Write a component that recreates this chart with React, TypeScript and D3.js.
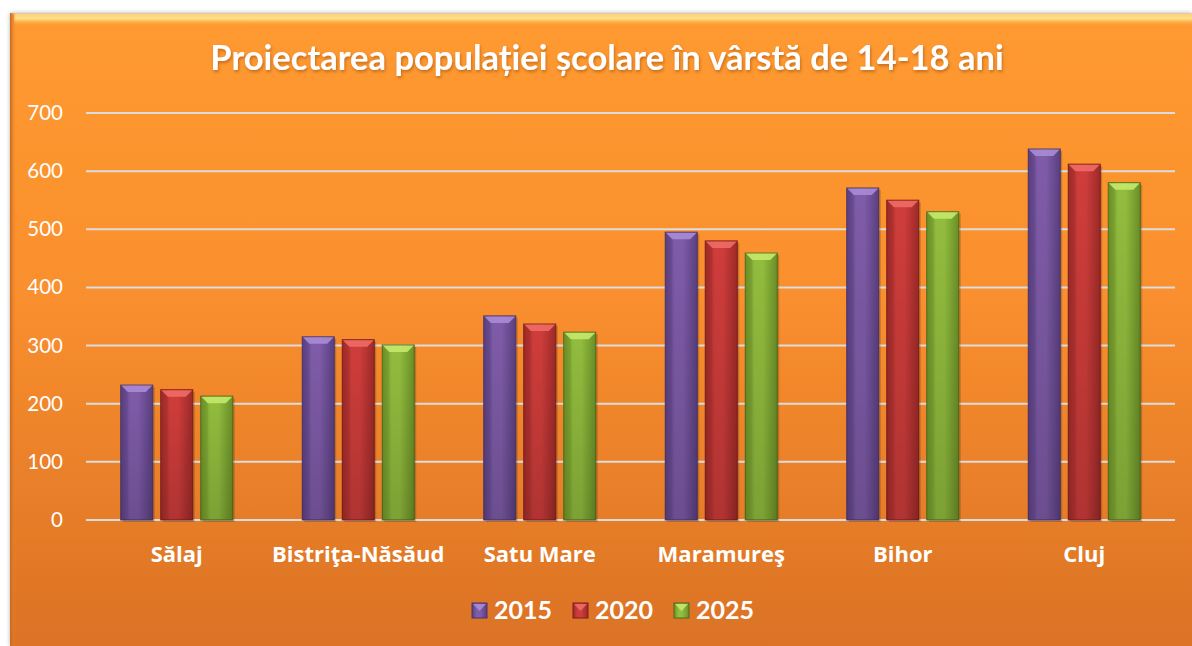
import React from "react";
import * as d3 from "d3";

const categories = ["Sălaj", "Bistriţa-Năsăud", "Satu Mare", "Maramureş", "Bihor", "Cluj"];
const seriesNames = ["2015", "2020", "2025"];
const values2015 = [232, 315, 351, 495, 571, 638];
const values2020 = [224, 310, 337, 480, 550, 612];
const values2025 = [213, 301, 323, 459, 530, 580];
const yTicks = [0, 100, 200, 300, 400, 500, 600, 700];
const title = "Proiectarea populației școlare în vârstă de 14-18 ani";

const W = 1192, H = 646;
const FONT = "Lato, 'Open Sans', sans-serif";
const FONT2 = "'Open Sans', Lato, sans-serif";
const colors = [
  { base: "#7f5ca9", light: "#a98bd6", dark: "#5a3f80", edge: "#4a3468" },
  { base: "#cf3d3b", light: "#ef6b66", dark: "#9c2a28", edge: "#7d1e1c" },
  { base: "#92bd3e", light: "#c4e96a", dark: "#6a8f27", edge: "#4f6b1c" },
];

export default function App() {
  const series = [values2015, values2020, values2025];
  const x0 = d3.scaleBand().domain(categories).range([86, 1175]).paddingInner(0).paddingOuter(0);
  const inner = d3.scaleBand().domain(seriesNames).range([0, 112]).paddingInner(0.2);
  const y = d3.scaleLinear().domain([0, 700]).range([520, 113]);
  const bw = inner.bandwidth();
  const groupOffset = (x0.bandwidth() - 112) / 2;

  return (
    <svg width={W} height={H} style={{ display: "block", position: "absolute", left: 0, top: 0 }}>
      <defs>
        <linearGradient id="bg" x1="0" y1="0" x2="0" y2="1">
          <stop offset="0" stopColor="#ff9a30" />
          <stop offset="0.45" stopColor="#f98f2e" />
          <stop offset="1" stopColor="#db7225" />
        </linearGradient>
        <linearGradient id="topBevel" x1="0" y1="0" x2="0" y2="1">
          <stop offset="0" stopColor="#ffd27a" />
          <stop offset="0.4" stopColor="#ffe08a" />
          <stop offset="1" stopColor="#ff9a30" stopOpacity="0" />
        </linearGradient>
        <linearGradient id="leftBevel" x1="0" y1="0" x2="1" y2="0">
          <stop offset="0" stopColor="#c9671c" />
          <stop offset="1" stopColor="#f08a2c" stopOpacity="0" />
        </linearGradient>
        {colors.map((c, i) => (
          <linearGradient key={i} id={`bar${i}`} x1="0" y1="0" x2="1" y2="0">
            <stop offset="0" stopColor={c.dark} />
            <stop offset="0.3" stopColor={c.base} />
            <stop offset="0.55" stopColor={c.base} />
            <stop offset="1" stopColor={c.dark} />
          </linearGradient>
        ))}
        {colors.map((c, i) => (
          <linearGradient key={i} id={`barv${i}`} x1="0" y1="0" x2="0" y2="1">
            <stop offset="0" stopColor="#000" stopOpacity="0" />
            <stop offset="1" stopColor="#000" stopOpacity="0.15" />
          </linearGradient>
        ))}
        <filter id="tshadow" x="-5%" y="-20%" width="110%" height="150%">
          <feDropShadow dx="1" dy="2" stdDeviation="1.5" floodColor="#8a4000" floodOpacity="0.5" />
        </filter>
        <filter id="frameShadow" x="-2%" y="-2%" width="104%" height="104%">
          <feDropShadow dx="0" dy="0" stdDeviation="2" floodColor="#000" floodOpacity="0.3" />
        </filter>
      </defs>
      <rect x={0} y={0} width={W} height={H} fill="#fff" />
      <rect x={10} y={13} width={W - 10} height={H - 13} fill="url(#bg)" filter="url(#frameShadow)" />
      <rect x={10} y={13} width={W - 10} height={1.5} fill="#e8c8a8" />
      <rect x={14} y={14} width={W - 14} height={12} fill="url(#topBevel)" />
      <rect x={10} y={13} width={6} height={H - 13} fill="url(#leftBevel)" />

      <text x={607} y={70} textAnchor="middle" fill="#fff" fontFamily={FONT} fontWeight="bold" fontSize={34.5} filter="url(#tshadow)">
        {title}
      </text>

      {yTicks.map((t) => (
        <g key={t}>
          <line x1={86} x2={1175} y1={y(t)} y2={y(t)} stroke="#dcdcdc" strokeWidth={2} />
          <text x={63} y={y(t) + 7} textAnchor="end" fill="#fff" fontFamily={FONT} fontSize={20.5}>
            {t}
          </text>
        </g>
      ))}

      {categories.map((cat, ci) => (
        <g key={cat} transform={`translate(${(x0(cat) ?? 0) + groupOffset},0)`}>
          {series.map((vals, si) => {
            const bx = inner(seriesNames[si]) ?? 0;
            const top = y(vals[ci]);
            const h = y(0) - top;
            const c = colors[si];
            const bev = 7;
            return (
              <g key={si}>
                <rect x={bx + 2} y={top + 2} width={bw} height={h} fill="#000" opacity={0.18} />
                <rect x={bx} y={top} width={bw} height={h} fill={`url(#bar${si})`} stroke={c.edge} strokeWidth={1} />
                <rect x={bx} y={top} width={bw} height={h} fill={`url(#barv${si})`} />
                <path
                  d={`M${bx + 0.5},${top + 0.5} L${bx + bw - 0.5},${top + 0.5} L${bx + bw - bev},${top + bev} L${bx + bev},${top + bev} Z`}
                  fill={c.light}
                  opacity={0.9}
                />
                <path
                  d={`M${bx + 0.5},${top + 0.5} L${bx + bev},${top + bev} L${bx + bev},${top + h - 2} L${bx + 0.5},${top + h} Z`}
                  fill={c.dark}
                  opacity={0.35}
                />
              </g>
            );
          })}
        </g>
      ))}

      {categories.map((cat) => (
        <text
          key={cat}
          x={(x0(cat) ?? 0) + x0.bandwidth() / 2}
          y={562}
          textAnchor="middle"
          fill="#fff"
          fontFamily={FONT2}
          fontWeight="bold"
          fontSize={22}
        >
          {cat}
        </text>
      ))}

      {seriesNames.map((s, i) => {
        const lx = 472 + i * 101;
        const c = colors[i];
        return (
          <g key={s}>
            <rect x={lx} y={603} width={15} height={15} fill={`url(#bar${i})`} stroke={c.edge} strokeWidth={1} />
            <path d={`M${lx + 1},${604} L${lx + 14},${604} L${lx + 7.5},${611} Z`} fill={c.light} opacity={0.9} />
            <text x={lx + 22} y={619} fill="#fff" fontFamily={FONT} fontWeight="bold" fontSize={25}>
              {s}
            </text>
          </g>
        );
      })}
    </svg>
  );
}
